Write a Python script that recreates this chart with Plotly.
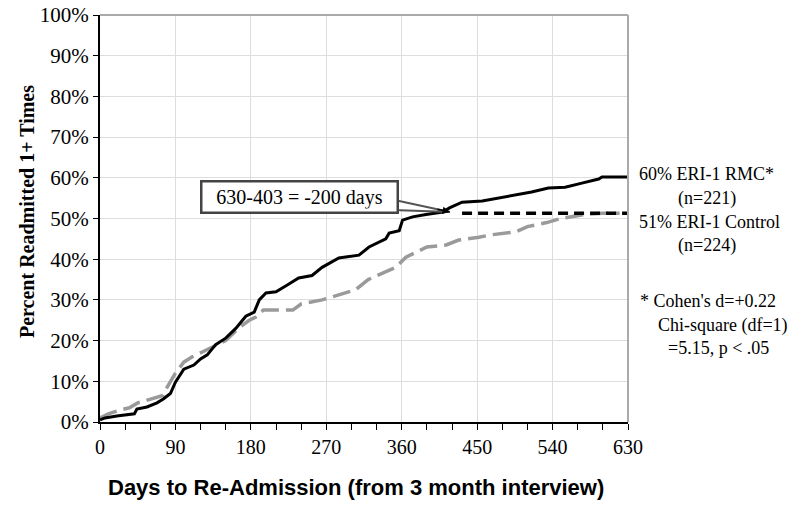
import plotly.graph_objects as go

# Data
rmc_days = [0, 6, 20, 41, 44, 56, 68, 76, 84, 90, 100, 112, 120, 128, 138, 150, 162, 174, 184, 190,
            198, 210, 223, 237, 253, 265, 285, 309, 321, 341, 345, 357, 361, 373, 389, 409, 417,
            432, 456, 476, 496, 515, 535, 555, 575, 595, 599, 630]
rmc_pct = [0.5, 1.0, 1.5, 2.0, 3.2, 3.7, 4.7, 5.7, 7.0, 9.8, 13.0, 14.0, 15.5, 16.5, 19.0, 20.6, 23.0,
           26.0, 27.0, 30.0, 31.7, 32.0, 33.6, 35.4, 36.0, 38.0, 40.3, 41.0, 43.0, 45.0, 46.4, 47.0,
           49.6, 50.4, 51.0, 51.6, 52.6, 54.0, 54.3, 55.0, 55.8, 56.5, 57.5, 57.7, 58.7, 59.7, 60.2, 60.2]

ctl_days = [0, 10, 25, 35, 45, 65, 75, 80, 90, 100, 110, 122, 135, 150, 165, 178, 186, 195, 230,
            240, 265, 285, 305, 320, 337, 353, 365, 390, 413, 428, 452, 467, 496, 510, 533, 550,
            578, 600, 620]
ctl_pct = [1.0, 2.0, 3.0, 3.5, 4.7, 5.8, 6.5, 8.5, 12.0, 14.7, 16.0, 17.2, 18.5, 20.0, 23.0, 25.0,
           25.8, 27.5, 27.5, 29.0, 30.0, 31.2, 32.5, 35.0, 36.6, 38.0, 40.5, 43.0, 43.5, 44.7, 45.4,
           46.0, 46.7, 48.0, 49.0, 50.0, 51.0, 51.3, 51.3]

ext_days = [432, 630]
ext_pct = [51.3, 51.3]

x_ticks = [0, 90, 180, 270, 360, 450, 540, 630]
y_ticks = [0, 10, 20, 30, 40, 50, 60, 70, 80, 90, 100]
y_tick_labels = [f"{v}%" for v in y_ticks]

SERIF = "Liberation Serif"

fig = go.Figure()
fig.add_trace(go.Scatter(x=ctl_days, y=ctl_pct, mode="lines",
                         line=dict(color="#9a9a9a", width=3.5, dash="18px,7px"),
                         showlegend=False, hoverinfo="skip"))
fig.add_trace(go.Scatter(x=rmc_days, y=rmc_pct, mode="lines",
                         line=dict(color="black", width=3),
                         showlegend=False, hoverinfo="skip"))
fig.add_trace(go.Scatter(x=ext_days, y=ext_pct, mode="lines",
                         line=dict(color="black", width=3.5, dash="10px,6px"),
                         showlegend=False, hoverinfo="skip"))

# callout wedge
fig.add_shape(type="path", xref="x", yref="y",
              path="M 350,54.6 L 417.6,51.6 L 350,52.1 Z",
              fillcolor="white", line=dict(color="#555555", width=2), layer="above")
# borders top/right
fig.add_shape(type="line", xref="paper", yref="paper", x0=0, x1=1, y0=1, y1=1,
              line=dict(color="#aaaaaa", width=2))
fig.add_shape(type="line", xref="paper", yref="paper", x0=1, x1=1, y0=0, y1=1,
              line=dict(color="#aaaaaa", width=2))

fig.add_annotation(x=417.6, y=51.6, xref="x", yref="y", ax=-14, ay=-3, text="",
                   showarrow=True, arrowhead=2, arrowsize=1, arrowwidth=1.5, arrowcolor="black")

fig.add_annotation(x=238.6, y=55.3, xref="x", yref="y", text="630-403 = -200 days",
                   showarrow=False, font=dict(family=SERIF, size=20, color="black"),
                   bgcolor="white", bordercolor="#444444", borderwidth=2.5, borderpad=3,
                   width=188, xanchor="center", yanchor="middle")

right_texts = [
    ("60% ERI-1 RMC*", 637, 174),
    ("(n=221)", 676, 198),
    ("51% ERI-1 Control", 637, 222),
    ("(n=224)", 676, 245),
    ("* Cohen's d=+0.22", 638, 301),
    ("Chi-square (df=1)", 656, 325),
    ("=5.15, p < .05", 666, 348),
]
for txt, px, py in right_texts:
    fig.add_annotation(x=(px - 100) / 528, y=(422 - py) / 407, xref="paper", yref="paper",
                       text=txt, showarrow=False, xanchor="left", yanchor="middle",
                       font=dict(family=SERIF, size=18, color="black"))

fig.add_annotation(x=(27 - 100) / 528, y=(422 - 212) / 407, xref="paper", yref="paper",
                   text="<b>Percent Readmitted 1+ Times</b>", textangle=-90, showarrow=False,
                   xanchor="center", yanchor="middle",
                   font=dict(family=SERIF, size=20, color="black"))
fig.add_annotation(x=(356 - 100) / 528, y=(422 - 487) / 407, xref="paper", yref="paper",
                   text="<b>Days to Re-Admission (from 3 month interview)</b>", showarrow=False,
                   xanchor="center", yanchor="middle",
                   font=dict(family="Liberation Sans", size=22, color="black"))

fig.update_layout(
    width=800, height=512,
    margin=dict(l=100, r=172, t=15, b=90),
    paper_bgcolor="white", plot_bgcolor="white",
    xaxis=dict(range=[0, 630], tickvals=x_ticks, ticktext=[str(v) for v in x_ticks],
               automargin=False, ticklabeloverflow="allow",
               showgrid=True, gridcolor="#dddddd", gridwidth=1,
               showline=True, linecolor="black", linewidth=2,
               ticks="outside", ticklen=6, tickcolor="black", tickwidth=1,
               minor=dict(dtick=30, tick0=0, ticks="outside", ticklen=6, tickcolor="black",
                          showgrid=False),
               tickfont=dict(family=SERIF, size=20, color="black"), zeroline=False),
    yaxis=dict(range=[0, 100], tickvals=y_ticks, ticktext=y_tick_labels,
               automargin=False, ticklabeloverflow="allow",
               showgrid=True, gridcolor="#dddddd", gridwidth=1,
               showline=True, linecolor="black", linewidth=2,
               ticks="outside", ticklen=5, tickcolor="black", tickwidth=1,
               tickfont=dict(family=SERIF, size=21, color="black"), zeroline=False),
)

fig.write_html("out.html", config={"displayModeBar": False},
               post_script="document.body.style.margin='0';document.body.style.padding='0';")
